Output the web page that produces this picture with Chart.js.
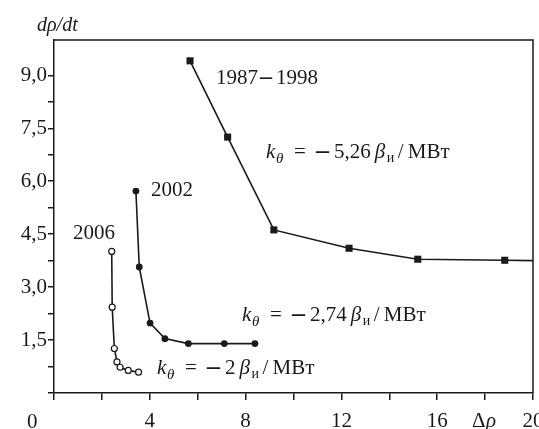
<!DOCTYPE html>
<html>
<head>
<meta charset="utf-8">
<script src="https://cdn.jsdelivr.net/npm/chart.js@4/dist/chart.umd.min.js"></script>
<style>
  html, body { margin: 0; padding: 0; background: #fff; }
  #wrap { width: 539px; height: 429px; }
</style>
</head>
<body>
<div id="wrap"><canvas id="chart" width="539" height="429"></canvas></div>
<script>
// values
const x1987 = [5.68, 7.25, 9.18, 12.32, 15.19, 18.82, 20];
const y1987 = [9.41, 7.25, 4.62, 4.10, 3.79, 3.76, 3.75];

const x2002 = [3.42, 3.56, 4.01, 4.63, 5.61, 7.11, 8.39];
const y2002 = [5.72, 3.57, 1.98, 1.54, 1.40, 1.40, 1.40];

const x2006 = [2.41, 2.43, 2.52, 2.63, 2.76, 3.10, 3.53];
const y2006 = [4.01, 2.43, 1.26, 0.88, 0.73, 0.64, 0.59];

const xTickLabels = [4, 8, 12, 16, 20];
const yTickLabels = [1.5, 3.0, 4.5, 6.0, 7.5, 9.0];

const SERIF = '"Liberation Serif", "DejaVu Serif", serif';

function toPoints(xs, ys) {
  return xs.map((x, i) => ({ x: x, y: ys[i] }));
}

// k_theta = -N beta_i / MBt, pieces placed one after another
function kLabel(ctx, x, y, value) {
  ctx.font = 'italic 21px ' + SERIF;
  ctx.fillText('k', x, y);
  ctx.font = 'italic 15px ' + SERIF;
  ctx.fillText('θ', x + 10, y + 5);
  ctx.font = '21px ' + SERIF;
  ctx.fillText('=', x + 28, y);
  ctx.font = 'bold 26px ' + SERIF;
  ctx.fillText('–', x + 50, y);
  ctx.font = '21px ' + SERIF;
  ctx.fillText(value, x + 68, y);
  let cx = x + 68 + ctx.measureText(value).width + 4;
  ctx.font = 'italic 21px ' + SERIF;
  ctx.fillText('β', cx, y);
  ctx.font = '14px ' + SERIF;
  ctx.fillText('и', cx + 12, y + 4);
  ctx.font = '21px ' + SERIF;
  ctx.fillText('/', cx + 23, y);
  ctx.fillText('МВт', cx + 33, y);
}

const annotations = {
  id: 'annotations',
  afterDraw(chart) {
    const ctx = chart.ctx;
    const a = chart.chartArea;
    ctx.save();
    // top and right frame
    ctx.strokeStyle = '#1a1a1a';
    ctx.lineWidth = 1.5;
    ctx.beginPath();
    ctx.moveTo(a.left, a.top);
    ctx.lineTo(a.right, a.top);
    ctx.lineTo(a.right, a.bottom);
    ctx.stroke();

    ctx.fillStyle = '#1a1a1a';
    ctx.textBaseline = 'alphabetic';
    ctx.textAlign = 'left';

    ctx.font = '21px ' + SERIF;
    ctx.fillText('1987', 216, 84);
    ctx.fillText('1998', 276, 84);
    ctx.font = 'bold 24px ' + SERIF;
    ctx.fillText('–', 260, 84);
    ctx.font = '21px ' + SERIF;
    ctx.fillText('2002', 151, 196);
    ctx.fillText('2006', 73, 239);
    ctx.fillText('0', 27, 428);

    kLabel(ctx, 266, 158, '5,26');
    kLabel(ctx, 242, 321, '2,74');
    kLabel(ctx, 157, 374, '2');

    // axis titles
    ctx.font = 'italic 20px ' + SERIF;
    ctx.fillText('dρ/dt', 37, 31);
    const xs = chart.scales.x.getPixelForValue(18);
    ctx.font = '21px ' + SERIF;
    ctx.fillText('Δ', xs - 13, 427);
    ctx.font = 'italic 21px ' + SERIF;
    ctx.fillText('ρ', xs + 1, 427);
    ctx.restore();
  }
};

const ctx = document.getElementById('chart').getContext('2d');
new Chart(ctx, {
  type: 'line',
  data: {
    datasets: [
      {
        label: '1987–1998',
        data: toPoints(x1987, y1987),
        borderColor: '#1a1a1a',
        backgroundColor: '#1a1a1a',
        borderWidth: 1.6,
        pointStyle: 'rect',
        pointRadius: x1987.map((v, i) => i === x1987.length - 1 ? 0 : 5),
        pointBorderWidth: 0
      },
      {
        label: '2002',
        data: toPoints(x2002, y2002),
        borderColor: '#1a1a1a',
        backgroundColor: '#1a1a1a',
        borderWidth: 1.6,
        pointStyle: 'circle',
        pointRadius: 3.4,
        pointBorderWidth: 0
      },
      {
        label: '2006',
        data: toPoints(x2006, y2006),
        borderColor: '#1a1a1a',
        backgroundColor: '#fff',
        borderWidth: 1.6,
        pointStyle: 'circle',
        pointRadius: 3,
        pointBorderWidth: 1.2
      }
    ]
  },
  options: {
    responsive: false,
    animation: false,
    layout: { padding: { top: 40, right: 6, left: 0, bottom: 0 } },
    plugins: {
      legend: { display: false },
      tooltip: { enabled: false }
    },
    scales: {
      x: {
        type: 'linear',
        min: 0,
        max: 20,
        border: { display: true, color: '#1a1a1a', width: 1.5 },
        grid: { drawOnChartArea: false, drawTicks: true, tickLength: 7, color: '#1a1a1a', lineWidth: 1.5 },
        ticks: {
          stepSize: 2,
          padding: 9,
          maxRotation: 0,
          color: '#1a1a1a',
          font: { family: SERIF, size: 21 },
          callback: v => xTickLabels.includes(v) ? String(v) : ''
        },
        afterFit: s => { s.height = 36; s.paddingLeft = 0; s.paddingRight = 0; }
      },
      y: {
        type: 'linear',
        min: 0,
        max: 10,
        border: { display: true, color: '#1a1a1a', width: 1.5 },
        grid: { drawOnChartArea: false, drawTicks: true, tickLength: 6, color: '#1a1a1a', lineWidth: 1.5 },
        ticks: {
          stepSize: 0.75,
          padding: 1,
          color: '#1a1a1a',
          font: { family: SERIF, size: 21 },
          callback: v => {
            const hit = yTickLabels.find(t => Math.abs(t - v) < 1e-6);
            return hit ? hit.toFixed(1).replace('.', ',') : '';
          }
        },
        afterBuildTicks: s => { s.ticks = s.ticks.filter(t => t.value < 9.9); },
        afterFit: s => { s.width = 54; s.paddingTop = 0; s.paddingBottom = 0; }
      }
    }
  },
  plugins: [annotations]
});
</script>
</body>
</html>
